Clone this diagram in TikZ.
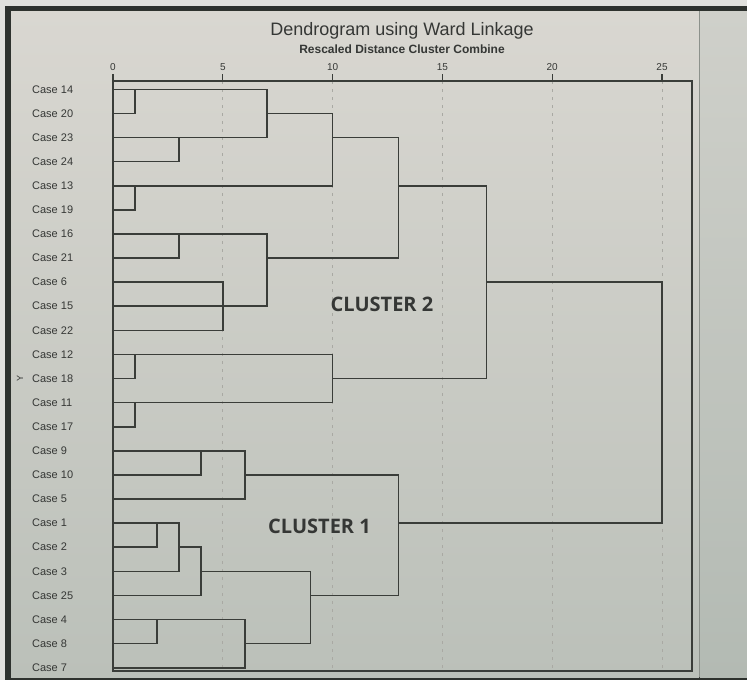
\documentclass[tikz,border=0pt]{standalone}
\usepackage{fontspec}
\setmainfont{Liberation Sans}
\newfontfamily\clusterfont{Open Sans}
\usetikzlibrary{calc,positioning}

\definecolor{outerGray}{HTML}{E1E1DD}
\definecolor{frameDark}{HTML}{2E322E}
\definecolor{panelTop}{HTML}{D9D7D1}
\definecolor{panelBot}{HTML}{BBC0B9}
\definecolor{sideTop}{HTML}{CFD0CA}
\definecolor{sideBot}{HTML}{B3BAB3}
\definecolor{sideLine}{HTML}{8C918B}
\definecolor{lineGray}{HTML}{3A3D39}
\definecolor{gridGray}{HTML}{A9A9A3}
\definecolor{textGray}{HTML}{353735}

\begin{document}
\begin{tikzpicture}[x=1pt,y=-1pt]
  \tikzstyle{link} = [line width=1.6pt, draw=lineGray, line cap=rect]
  \tikzstyle{casenode} = [anchor=west, inner sep=0pt, text=textGray, font=\fontsize{11}{13}\selectfont]
  \tikzstyle{tnode} = [inner sep=0pt, text=textGray, font=\fontsize{10}{12}\selectfont]
  \tikzstyle{cnode} = [inner sep=0pt, text=textGray, font=\clusterfont\bfseries\fontsize{20}{24}\selectfont]
  \tikzstyle{gridline} = [draw=gridGray, line width=0.9pt, dash pattern=on 3pt off 5pt]

  \useasboundingbox (0,0) rectangle (747,680);
  % background and window
  \fill[outerGray] (0,0) rectangle (747,680);
  \fill[frameDark] (5,6) rectangle (747,680);
  \shade[top color=panelTop, bottom color=panelBot] (11,11) rectangle (699,677);
  \shade[top color=sideTop, bottom color=sideBot] (700,11) rectangle (747,677);
  \draw[sideLine, line width=1.5pt] (699.5,11) -- (699.5,677);

  % titles
  \node[text=textGray, font=\fontsize{18}{22}\selectfont] (title) at (402,31) {Dendrogram using Ward Linkage};
  \node[text=textGray, font=\bfseries\fontsize{12}{14}\selectfont] (sub) at (402,49) {Rescaled Distance Cluster Combine};
  \node[tnode, rotate=90, font=\fontsize{9}{11}\selectfont] (ylab) at (20,378) {Y};

  % axis, grid and frame
  \begin{scope}[shift={(113,0)}, x=21.96pt]
    \draw[gridline] (5,81) -- (5,671);
    \draw[gridline] (10,81) -- (10,671);
    \draw[gridline] (15,81) -- (15,671);
    \draw[gridline] (20,81) -- (20,671);
    \draw[gridline] (25,81) -- (25,671);
    \draw[lineGray, line width=1.3pt] (0,74) -- (0,81) (5,74) -- (5,81) (10,74) -- (10,81)
      (15,74) -- (15,81) (20,74) -- (20,81) (25,74) -- (25,81);
    \node[tnode] (t0) at (0,67) {0};
    \node[tnode] (t5) at (5,67) {5};
    \node[tnode] (t10) at (10,67) {10};
    \node[tnode] (t15) at (15,67) {15};
    \node[tnode] (t20) at (20,67) {20};
    \node[tnode] (t25) at (25,67) {25};
  \end{scope}
  \draw[lineGray, line width=1.3pt] (113,81) rectangle (692,671);

  \begin{scope}[shift={(113,89.3)}, x=21.96pt, y=-24.1pt]
    % cases
    \node[casenode] (c14) at (-3.69,0) {Case 14}; \coordinate (l14) at (0,0);
    \node[casenode] (c20) at (-3.69,1) {Case 20}; \coordinate (l20) at (0,1);
    \node[casenode] (c23) at (-3.69,2) {Case 23}; \coordinate (l23) at (0,2);
    \node[casenode] (c24) at (-3.69,3) {Case 24}; \coordinate (l24) at (0,3);
    \node[casenode] (c13) at (-3.69,4) {Case 13}; \coordinate (l13) at (0,4);
    \node[casenode] (c19) at (-3.69,5) {Case 19}; \coordinate (l19) at (0,5);
    \node[casenode] (c16) at (-3.69,6) {Case 16}; \coordinate (l16) at (0,6);
    \node[casenode] (c21) at (-3.69,7) {Case 21}; \coordinate (l21) at (0,7);
    \node[casenode] (c6) at (-3.69,8) {Case 6}; \coordinate (l6) at (0,8);
    \node[casenode] (c15) at (-3.69,9) {Case 15}; \coordinate (l15) at (0,9);
    \node[casenode] (c22) at (-3.69,10) {Case 22}; \coordinate (l22) at (0,10);
    \node[casenode] (c12) at (-3.69,11) {Case 12}; \coordinate (l12) at (0,11);
    \node[casenode] (c18) at (-3.69,12) {Case 18}; \coordinate (l18) at (0,12);
    \node[casenode] (c11) at (-3.69,13) {Case 11}; \coordinate (l11) at (0,13);
    \node[casenode] (c17) at (-3.69,14) {Case 17}; \coordinate (l17) at (0,14);
    \node[casenode] (c9) at (-3.69,15) {Case 9}; \coordinate (l9) at (0,15);
    \node[casenode] (c10) at (-3.69,16) {Case 10}; \coordinate (l10) at (0,16);
    \node[casenode] (c5) at (-3.69,17) {Case 5}; \coordinate (l5) at (0,17);
    \node[casenode] (c1) at (-3.69,18) {Case 1}; \coordinate (l1) at (0,18);
    \node[casenode] (c2) at (-3.69,19) {Case 2}; \coordinate (l2) at (0,19);
    \node[casenode] (c3) at (-3.69,20) {Case 3}; \coordinate (l3) at (0,20);
    \node[casenode] (c25) at (-3.69,21) {Case 25}; \coordinate (l25) at (0,21);
    \node[casenode] (c4) at (-3.69,22) {Case 4}; \coordinate (l4) at (0,22);
    \node[casenode] (c8) at (-3.69,23) {Case 8}; \coordinate (l8) at (0,23);
    \node[casenode] (c7) at (-3.69,24) {Case 7}; \coordinate (l7) at (0,24);

    % merge points
    \coordinate (m1420) at (1,0);
    \coordinate (m2324) at (3,2);
    \coordinate (mA) at (7,1);
    \coordinate (m1319) at (1,4);
    \coordinate (mAB) at (10,2);
    \coordinate (m1621) at (3,6);
    \coordinate (m615) at (5,8);
    \coordinate (m22) at (5,9);
    \coordinate (mC) at (7,7);
    \coordinate (mTop) at (13,4);
    \coordinate (m1218) at (1,11);
    \coordinate (m1117) at (1,13);
    \coordinate (mD) at (10,12);
    \coordinate (clus2) at (17,8);
    \coordinate (m910) at (4,15);
    \coordinate (m5) at (6,16);
    \coordinate (m12) at (2,18);
    \coordinate (m3) at (3,19);
    \coordinate (m25) at (4,20);
    \coordinate (m48) at (2,22);
    \coordinate (m7) at (6,23);
    \coordinate (mLow) at (9,21);
    \coordinate (clus1) at (13,18);
    \coordinate (root) at (25,13);

    % connections
    \draw[link] (l14) -| (m1420) |- (l20);
    \draw[link] (l23) -| (m2324) |- (l24);
    \draw[link] (m1420) -| (mA) |- (m2324);
    \draw[link] (l13) -| (m1319) |- (l19);
    \draw[link] (mA) -| (mAB) |- (m1319);
    \draw[link] (l16) -| (m1621) |- (l21);
    \draw[link] (l6) -| (m615) |- (l15);
    \draw[link] (m615) -| (m22) |- (l22);
    \draw[link] (m1621) -| (mC) |- (m22);
    \draw[link] (mAB) -| (mTop) |- (mC);
    \draw[link] (l12) -| (m1218) |- (l18);
    \draw[link] (l11) -| (m1117) |- (l17);
    \draw[link] (m1218) -| (mD) |- (m1117);
    \draw[link] (mTop) -| (clus2) |- (mD);

    \draw[link] (l9) -| (m910) |- (l10);
    \draw[link] (m910) -| (m5) |- (l5);
    \draw[link] (l1) -| (m12) |- (l2);
    \draw[link] (m12) -| (m3) |- (l3);
    \draw[link] (m3) -| (m25) |- (l25);
    \draw[link] (l4) -| (m48) |- (l8);
    \draw[link] (m48) -| (m7) |- (l7);
    \draw[link] (m25) -| (mLow) |- (m7);
    \draw[link] (m5) -| (clus1) |- (mLow);
    \draw[link] (clus2) -| (root) |- (clus1);
  \end{scope}

  \node[cnode] (lab2) at (382,304) {CLUSTER 2};
  \node[cnode] (lab1) at (319.5,526) {CLUSTER 1};
\end{tikzpicture}
\end{document}
